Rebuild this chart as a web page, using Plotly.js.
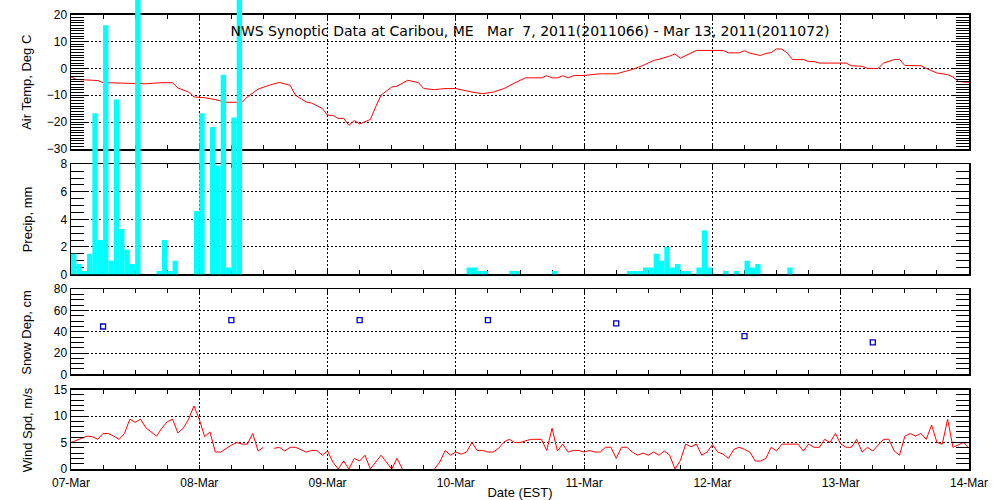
<!DOCTYPE html>
<html><head><meta charset="utf-8">
<script src="https://cdn.plot.ly/plotly-3.0.1.min.js"></script>
<style>html,body{margin:0;padding:0;background:#fff}#chart{width:1000px;height:500px}</style>
</head><body><div id="chart"></div>
<script>
// ---- data (hours since 2011-03-07 00:00 EST) ----
const startDate = '2011-03-07 00:00:00';
const endDate = '2011-03-14 00:00:00';
const tickFormat = '%d-%b';

const tempHours = [0,1,4,5,6,10,14,17,19,20, 22,23,25,27,29,32,33,35,37,39,
  41,42,44,45,47,48,49,50,51,52, 53,54,56,57,58,60,61,63,65,66,
  68,70,72,75,77,79,81,83,85,88, 89,90,91,92,93,94,96,99,102,105,
  107,109,110,112,113,114,116,117,122,123, 125,126,127,129,130,131,132,133,134,135,
  137,138,139,140,145,146,148,149,151,152, 154,155,156,159,160,162,164,165,166,167, 168];
const tempDegC = [-3.2,-4.1,-4.4,-4.5,-5.3,-5.6,-5.7,-5.3,-5.3,-7.3, -8.8,-10.6,-10.9,-11.6,-12.6,-12.6,-10.6,-7.7,-6.3,-5.2,
  -6.3,-10,-12.5,-12.9,-14.9,-17.4,-17.5,-18.6,-18.6,-21.2, -19.4,-20.7,-19,-14.3,-10,-6.9,-6.6,-4.4,-5.3,-7.5,
  -7.9,-7.5,-7.5,-8.8,-9.4,-8.8,-7.5,-5.4,-3.5,-3.5, -2.7,-3.5,-3.5,-2.7,-3.5,-2.7,-2.6,-2.0,-2.0,-0.4,
  1.1,3.0,3.4,4.6,5.4,3.8,5.8,6.7,6.7,5.8, 5.8,6.6,5.7,4.8,5.6,5.9,7.3,7.2,5.7,3.3,
  3.3,2.6,2.6,2.0,2.0,1.0,0.8,0,0,2.0, 3.3,3.4,1.1,1.0,0,-1.7,-2.3,-3.2,-4.8,-5.1, -5.1];

const precipHours = [0,1,2,3,4,5,6,7,8,9,10,11,12, 16,17,18,19, 23,24,26,27,28,29,30,31,
  74,75,76,77, 82,83, 90, 104,105,106,107,108,109,110,111,112,113,114,115,
  117,118,119, 122,124,126,127,128, 134];
const precipMm = [1.5,0.76,0.25,1.5,11.7,2.5,18.1,1.0,12.7,3.3,1.8,0.76,22.9, 0.25,2.5,0.25,1.0, 4.6,11.7,10.7,7.9,14.5,0.5,11.4,24.4,
  0.5,0.5,0.25,0.25, 0.25,0.25, 0.25, 0.25,0.25,0.25,0.5,0.5,1.5,1.0,2.0,0.5,0.76,0.25,0.25,
  0.5,3.2,0.5, 0.25,0.25,1.0,0.5,0.76, 0.5];

const snowHours = [6,30,54,78,102,126,150];
const snowCm = [45,51,51,51,48,36,30];

const windHours = [0,2,3,4,5,6,7,8,9,10,11, 12,13,14,15,16,17,18,19,20,21, 22,23,24,25,26,27,28,
  30,31,32,33,34,35,36,37, 38,39,40,41,42,43,44,45,46,47, 48,49,50,51,52,53,54,55,56,57, 58,59,60,61,62,63,
  68,69,70,71,72,73,74,75,76,77, 78,79,80,81,82,83,84,85,86,
  88,89,90,91,92,93,94,95,96,97, 98,99,100,101,102,103,104,105,106,107,
  108,109,110,111,112,113,114,115,116,117, 118,119,120,121,122,123,124,125,126,127,
  128,129,130,131,132,133,134,135,136,137, 138,139,140,141,142,143,144,145,146,147,
  148,149,150,151,152,153,154,155,156,157, 158,159,160,161,162,163,164,165,166,167, 168];
const windMs = [5.0,5.8,6.2,6.1,5.6,6.7,6.7,6.2,5.6,6.7,9.4, 8.8,9.4,7.8,7.0,6.2,7.7,8.9,9.4,6.8,7.7, 9.4,11.9,9.4,6.1,7.0,3.2,3.2,
  4.5,5.0,4.7,4.7,6.7,3.4,4.1,null, 3.9,4.1,3.4,4.1,4.1,3.7,3.2,3.5,3.5,2.6, 3.4,1.3,0,1.5,0,2.0,1.5,2.6,0,1.3, 2.6,1.3,0,2.0,0,null,
  0,1.3,3.5,2.6,3.2,2.8,3.2,5.0,3.5,3.5, 3.2,3.2,3.9,5.1,5.6,5.0,5.0,5.3,5.6,
  5.6,3.5,7.7,3.4,4.7,3.2,3.5,3.5,3.2,3.5, 3.2,3.2,4.1,4.1,2.0,4.1,4.1,3.2,2.6,3.0,
  2.6,3.2,2.6,3.4,2.6,0,1.6,4.7,4.2,4.7, 2.6,3.2,4.6,3.2,2.8,2.0,3.7,4.1,3.7,3.2,
  1.5,1.5,2.0,4.1,3.4,4.7,4.7,4.7,4.7,3.4, 4.7,4.1,4.1,5.6,5.0,6.7,4.7,4.1,4.1,5.6,
  3.2,4.1,3.4,4.5,5.6,5.6,3.4,2.6,6.2,6.7, 6.2,6.7,5.6,8.3,5.0,4.7,9.4,4.1,4.5,5.0, 3.9];

const titleText = 'NWS Synoptic Data at Caribou, ME\u00a0\u00a0\u00a0Mar\u00a0\u00a07, 2011(2011066) - Mar 13, 2011(2011072)';
const yTitles = ['Air Temp, Deg C', 'Precip, mm', 'Snow Dep, cm', 'Wind Spd, m/s'];
const xTitle = 'Date (EST)';

// ---- helpers ----
const baseMs = Date.UTC(2011, 2, 7);
const HOUR = 3600000;
function hourToDate(h) {
  return new Date(baseMs + h * HOUR).toISOString().slice(0, 19).replace('T', ' ');
}

const FONT = 'Liberation Sans, Arial, sans-serif';

// panel domains (paper fraction of the plotting height)
const d1 = [0.6823, 0.9686], d2 = [0.4149, 0.6497], d3 = [0.2019, 0.3832], d4 = [0, 0.1695];
const precipRange = [0, 8];
// precip bars are drawn unclipped above their panel (as in the original):
// an invisible axis with the same mm-per-pixel scale reaching the top of the page
const dBars = [d2[0], 1];
const barsTop = precipRange[1] * (dBars[1] - dBars[0]) / (d2[1] - d2[0]);

const traces = [
  {type: 'scatter', mode: 'lines', x: tempHours.map(hourToDate), y: tempDegC,
   xaxis: 'x', yaxis: 'y', line: {color: '#ff0000', width: 1}},
  // empty trace so that the precip panel's own axes/grid are created
  {type: 'scatter', mode: 'lines', x: [], y: [], xaxis: 'x2', yaxis: 'y2'},
  {type: 'scatter', mode: 'markers', x: snowHours.map(hourToDate), y: snowCm,
   xaxis: 'x3', yaxis: 'y3',
   marker: {symbol: 'square-open', size: 5, color: '#0000cc', line: {width: 1.3, color: '#0000cc'}}},
  {type: 'scatter', mode: 'lines', x: windHours.map(hourToDate), y: windMs,
   xaxis: 'x4', yaxis: 'y4', line: {color: '#ff0000', width: 1}, connectgaps: false},
  {type: 'bar', x: precipHours.map(hourToDate), y: precipMm, xaxis: 'x5', yaxis: 'y5',
   width: HOUR, offset: 0,
   marker: {color: '#00ffff', line: {width: 0}}}
];

const common = {
  showline: true, linecolor: 'black', linewidth: 1.5, mirror: 'ticks',
  ticks: 'inside', tickcolor: 'black', tickwidth: 1, zeroline: false,
  showgrid: true, gridcolor: 'black', gridwidth: 1, griddash: '2px,2px',
  tickfont: {family: FONT, size: 12, color: 'black'}, fixedrange: true
};

function xAxis(anchor, showLabels) {
  return Object.assign({}, common, {
    type: 'date', anchor: anchor, range: [startDate, endDate],
    tick0: startDate, dtick: 86400000, tickformat: tickFormat, ticklen: 4,
    showticklabels: showLabels,
    minor: {tick0: startDate, dtick: 6 * HOUR, ticks: 'inside', ticklen: 4, tickcolor: 'black', tickwidth: 1, showgrid: false}
  });
}
function yAxis(anchor, domain, range, dtick, minorDtick) {
  return Object.assign({}, common, {
    anchor: anchor, domain: domain, range: range, tick0: 0, dtick: dtick, ticklen: 18,
    minor: {tick0: 0, dtick: minorDtick, ticks: 'inside', ticklen: 13, tickcolor: 'black', tickwidth: 1, showgrid: false}
  });
}

const layout = {
  width: 1000, height: 500,
  margin: {l: 71, r: 31, t: 0, b: 31},
  paper_bgcolor: 'white', plot_bgcolor: 'rgba(0,0,0,0)',
  showlegend: false,
  font: {family: FONT, size: 12, color: 'black'},
  title: {text: titleText, font: {family: 'DejaVu Sans, sans-serif', size: 14, color: 'black'},
          x: 0.53, xref: 'container', xanchor: 'center', y: 0.938, yref: 'container', yanchor: 'middle'},
  xaxis: xAxis('y', false),
  xaxis2: xAxis('y2', false),
  xaxis3: xAxis('y3', false),
  xaxis4: Object.assign(xAxis('y4', true), {ticklabelstandoff: 2,
           title: {text: xTitle, font: {family: FONT, size: 13, color: 'black'}, standoff: 0}}),
  xaxis5: {visible: false, type: 'date', anchor: 'y5', range: [startDate, endDate], fixedrange: true},
  yaxis: yAxis('x', d1, [-30, 20], 10, 1),
  yaxis2: yAxis('x2', d2, precipRange, 2, 0.5),
  yaxis3: yAxis('x3', d3, [0, 80], 20, 5),
  yaxis4: yAxis('x4', d4, [0, 15], 5, 1),
  yaxis5: {visible: false, anchor: 'x5', domain: dBars, range: [0, barsTop], fixedrange: true},
  annotations: yTitles.map((t, i) => ({
    text: t, textangle: -90, showarrow: false,
    xref: 'paper', yref: 'paper', x: -0.049, xanchor: 'center', yanchor: 'middle',
    y: [(d1[0]+d1[1])/2, (d2[0]+d2[1])/2, (d3[0]+d3[1])/2, (d4[0]+d4[1])/2][i],
    font: {family: FONT, size: 13, color: 'black'}
  }))
};

Plotly.newPlot('chart', traces, layout, {displayModeBar: false, staticPlot: true});
</script>
</body></html>
